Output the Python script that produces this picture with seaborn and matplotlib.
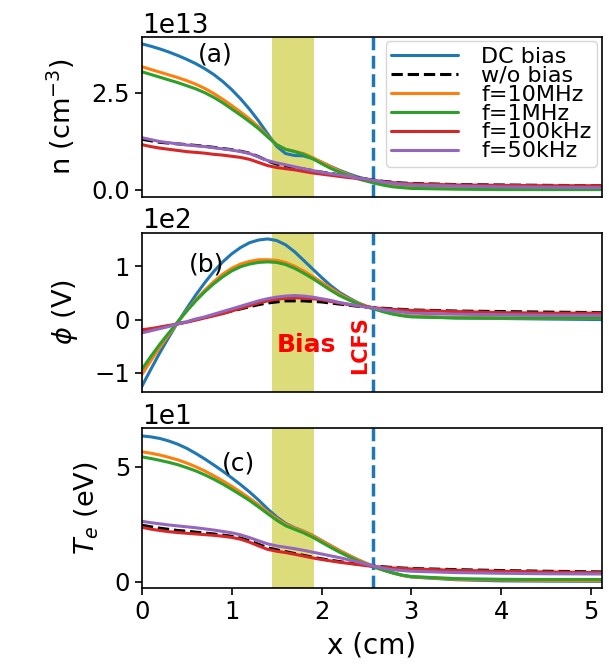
import pandas as pd
import matplotlib
matplotlib.use("Agg")
import matplotlib.pyplot as plt
import seaborn as sns

# x grid (cm), shared by all three panels
x_cm = [0.0, 0.1, 0.2, 0.3, 0.4, 0.5, 0.6, 0.7, 0.8, 0.9, 1.0, 1.1, 1.2, 1.3, 1.4,
        1.5, 1.6, 1.7, 1.8, 1.9, 2.0, 2.1, 2.2, 2.3, 2.4, 2.5, 2.6, 2.7, 2.8, 2.9,
        3.0, 3.5, 4.0, 4.5, 5.12]

labels = ["DC bias", "w/o bias", "f=10MHz", "f=1MHz", "f=100kHz", "f=50kHz"]
colors = ["tab:blue", "black", "tab:orange", "tab:green", "tab:red", "tab:purple"]

# density n (1e13 cm^-3)
n_dc = [3.76, 3.70, 3.63, 3.55, 3.46, 3.36, 3.25, 3.12, 2.97, 2.79, 2.58, 2.34, 2.07, 1.77, 1.44,
        1.12, 0.93, 0.88, 0.87, 0.80, 0.71, 0.60, 0.50, 0.41, 0.33, 0.27, 0.22, 0.17, 0.13, 0.10,
        0.08, 0.05, 0.04, 0.04, 0.04]
n_wo = [1.30, 1.26, 1.22, 1.20, 1.18, 1.16, 1.14, 1.12, 1.09, 1.06, 1.03, 0.99, 0.94, 0.85, 0.74,
        0.66, 0.61, 0.57, 0.53, 0.49, 0.45, 0.42, 0.38, 0.34, 0.31, 0.27, 0.24, 0.21, 0.19, 0.17,
        0.16, 0.13, 0.12, 0.11, 0.10]
n_10m = [3.17, 3.10, 3.03, 2.96, 2.89, 2.81, 2.72, 2.61, 2.48, 2.33, 2.17, 2.00, 1.82, 1.62, 1.38,
         1.16, 1.04, 0.99, 0.93, 0.83, 0.71, 0.59, 0.48, 0.38, 0.30, 0.24, 0.18, 0.13, 0.09, 0.07,
         0.05, 0.03, 0.02, 0.02, 0.02]
n_1m = [3.04, 2.97, 2.90, 2.83, 2.76, 2.68, 2.60, 2.50, 2.38, 2.24, 2.08, 1.92, 1.75, 1.57, 1.36,
        1.16, 1.04, 0.98, 0.91, 0.80, 0.67, 0.55, 0.45, 0.36, 0.28, 0.22, 0.16, 0.11, 0.07, 0.05,
        0.03, 0.01, 0.0, 0.0, 0.0]
n_100k = [1.16, 1.11, 1.07, 1.04, 1.01, 0.98, 0.96, 0.94, 0.91, 0.89, 0.86, 0.83, 0.78, 0.70, 0.62,
          0.57, 0.54, 0.51, 0.47, 0.43, 0.40, 0.37, 0.34, 0.31, 0.29, 0.26, 0.23, 0.20, 0.18, 0.16,
          0.15, 0.12, 0.11, 0.10, 0.10]
n_50k = [1.34, 1.29, 1.24, 1.21, 1.18, 1.15, 1.13, 1.11, 1.08, 1.05, 1.02, 0.98, 0.93, 0.84, 0.75,
         0.69, 0.64, 0.59, 0.54, 0.49, 0.45, 0.41, 0.38, 0.34, 0.30, 0.27, 0.23, 0.19, 0.16, 0.14,
         0.12, 0.09, 0.07, 0.06, 0.05]

# potential phi (1e2 V)
phi_dc = [-1.25, -0.93, -0.62, -0.33, -0.05, 0.21, 0.46, 0.69, 0.90, 1.08, 1.23, 1.35, 1.44, 1.49,
          1.51, 1.48, 1.40, 1.27, 1.11, 0.95, 0.79, 0.64, 0.51, 0.41, 0.32, 0.25, 0.20, 0.15, 0.11,
          0.08, 0.06, 0.03, 0.02, 0.01, 0.0]
phi_wo = [-0.21, -0.18, -0.15, -0.12, -0.08, -0.04, 0.0, 0.04, 0.08, 0.12, 0.16, 0.20, 0.24, 0.28,
          0.31, 0.33, 0.35, 0.35, 0.35, 0.34, 0.33, 0.31, 0.29, 0.27, 0.25, 0.23, 0.22, 0.21, 0.20,
          0.19, 0.18, 0.16, 0.15, 0.14, 0.13]
phi_10m = [-1.03, -0.77, -0.52, -0.28, -0.05, 0.17, 0.37, 0.55, 0.71, 0.85, 0.96, 1.04, 1.09, 1.12,
           1.12, 1.11, 1.07, 1.00, 0.91, 0.81, 0.70, 0.59, 0.48, 0.39, 0.31, 0.25, 0.20, 0.15, 0.11,
           0.08, 0.06, 0.04, 0.03, 0.03, 0.03]
phi_1m = [-0.93, -0.69, -0.46, -0.25, -0.04, 0.16, 0.35, 0.52, 0.67, 0.80, 0.91, 0.99, 1.04, 1.07,
          1.08, 1.07, 1.03, 0.96, 0.87, 0.77, 0.66, 0.55, 0.45, 0.37, 0.30, 0.24, 0.19, 0.14, 0.10,
          0.07, 0.05, 0.03, 0.03, 0.03, 0.03]
phi_100k = [-0.19, -0.17, -0.14, -0.11, -0.08, -0.05, -0.01, 0.03, 0.07, 0.11, 0.16, 0.21, 0.26, 0.31,
            0.35, 0.38, 0.40, 0.41, 0.40, 0.39, 0.37, 0.34, 0.31, 0.28, 0.26, 0.24, 0.22, 0.20, 0.19,
            0.18, 0.17, 0.15, 0.13, 0.12, 0.12]
phi_50k = [-0.25, -0.21, -0.17, -0.13, -0.08, -0.04, 0.01, 0.05, 0.10, 0.15, 0.20, 0.25, 0.30, 0.35,
           0.39, 0.42, 0.44, 0.45, 0.44, 0.42, 0.39, 0.36, 0.32, 0.29, 0.26, 0.23, 0.21, 0.18, 0.16,
           0.14, 0.12, 0.10, 0.09, 0.08, 0.08]

# electron temperature Te (eV)
te_dc = [63.4, 63.0, 62.3, 61.2, 59.8, 58.0, 55.8, 53.4, 50.8, 48.1, 45.2, 42.2, 39.0, 35.5, 31.7,
         28.2, 25.4, 23.5, 22.0, 20.2, 18.0, 15.8, 13.6, 11.6, 9.7, 8.0, 6.5, 5.1, 3.8, 2.8,
         2.1, 0.9, 0.4, 0.3, 0.2]
te_wo = [24.6, 23.9, 23.3, 22.8, 22.3, 22.0, 21.6, 21.2, 20.8, 20.3, 19.8, 19.0, 17.8, 16.3, 14.8,
         13.9, 13.1, 12.3, 11.5, 10.7, 10.0, 9.4, 8.8, 8.2, 7.7, 7.2, 6.8, 6.5, 6.2, 6.0,
         5.8, 5.3, 4.9, 4.6, 4.3]
te_10m = [56.5, 55.9, 55.1, 54.1, 53.0, 51.6, 50.0, 48.2, 46.1, 43.9, 41.5, 39.0, 36.3, 33.4, 30.3,
          27.5, 25.0, 23.3, 21.9, 20.1, 17.9, 15.7, 13.6, 11.6, 9.7, 8.0, 6.5, 5.0, 3.8, 2.8,
          2.2, 1.1, 0.8, 0.6, 0.5]
te_1m = [54.3, 53.6, 52.8, 51.9, 50.9, 49.6, 48.2, 46.5, 44.6, 42.5, 40.2, 37.8, 35.3, 32.5, 29.6,
         26.8, 24.4, 22.8, 21.3, 19.4, 17.2, 15.0, 12.9, 11.0, 9.2, 7.6, 6.2, 4.9, 3.8, 2.9,
         2.3, 1.4, 1.1, 1.0, 1.0]
te_100k = [23.7, 22.9, 22.3, 21.8, 21.4, 21.1, 20.8, 20.5, 20.2, 19.8, 19.3, 18.5, 17.2, 15.6, 14.1,
           13.3, 12.7, 12.0, 11.2, 10.4, 9.7, 9.1, 8.5, 8.0, 7.5, 7.0, 6.6, 6.3, 6.0, 5.8,
           5.6, 5.0, 4.6, 4.3, 4.0]
te_50k = [26.3, 25.7, 25.2, 24.7, 24.3, 23.9, 23.5, 23.0, 22.5, 21.9, 21.3, 20.4, 19.2, 17.8, 16.5,
          15.6, 15.0, 14.4, 13.7, 12.9, 12.1, 11.3, 10.5, 9.6, 8.7, 7.6, 6.6, 5.8, 5.2, 4.9,
          4.6, 4.0, 3.7, 3.5, 3.4]

bias_band = (1.45, 1.92)
x_lcfs = 2.57


def long_frame(series, scale):
    rows = []
    for lab, vals in zip(labels, series):
        for xi, v in zip(x_cm, vals):
            rows.append({"x": xi, "y": v * scale, "case": lab})
    return pd.DataFrame(rows)


panels = [
    (long_frame([n_dc, n_wo, n_10m, n_1m, n_100k, n_50k], 1e13),
     r"n (cm$^{-3}$)", "(a)", (0.16, 0.89), [0, 2.5e13], (-0.18e13, 3.94e13)),
    (long_frame([phi_dc, phi_wo, phi_10m, phi_1m, phi_100k, phi_50k], 1e2),
     r"$\phi$ (V)", "(b)", (0.14, 0.80), [-100, 0, 100], (-136, 163)),
    (long_frame([te_dc, te_wo, te_10m, te_1m, te_100k, te_50k], 1.0),
     r"$T_e$ (eV)", "(c)", (0.21, 0.78), [0, 50], (-2.6, 66.8)),
]

sns.set_style("ticks")
plt.rcParams["font.family"] = ["DejaVu Sans"]
plt.rcParams["mathtext.fontset"] = "dejavusans"
for key in ["text.color", "axes.labelcolor", "xtick.color", "ytick.color", "axes.edgecolor"]:
    plt.rcParams[key] = "black"

fig, axes = plt.subplots(3, 1, figsize=(6.09, 6.71), dpi=100, sharex=True)
fig.subplots_adjust(left=0.233, right=0.988, top=0.945, bottom=0.124, hspace=0.225)

palette = dict(zip(labels, colors))
dashes = {lab: (3.7, 1.6) if lab == "w/o bias" else "" for lab in labels}

for i, (ax, (df, ylab, tag, tagpos, yt, ylim)) in enumerate(zip(axes, panels)):
    ax.axvspan(*bias_band, color="#dcdc7b", lw=0, zorder=0)
    sns.lineplot(data=df, x="x", y="y", hue="case", style="case", palette=palette,
                 dashes=dashes, hue_order=labels, style_order=labels,
                 linewidth=2.2, ax=ax, legend=(i == 0), zorder=2)
    ax.axvline(x_lcfs, color="tab:blue", ls="--", lw=2.5, zorder=1)
    ax.set_ylabel(ylab, fontsize=19.5, labelpad=10)
    ax.set_xlabel("")
    ax.set_yticks(yt)
    ax.set_ylim(*ylim)
    ax.set_xlim(0, 5.12)
    ax.ticklabel_format(axis="y", style="sci", scilimits=(0, 0))
    ax.tick_params(labelsize=17.5, width=1.2, length=5)
    ax.yaxis.get_offset_text().set_fontsize(19)
    ax.text(*tagpos, tag, transform=ax.transAxes, fontsize=18, ha="center", va="center")
    for sp in ax.spines.values():
        sp.set_linewidth(1.2)
    if i < 2:
        ax.tick_params(axis="x", bottom=False, labelbottom=False)

leg = axes[0].legend(loc="upper right", fontsize=16, labelspacing=-0.05, borderpad=0.25,
                     handlelength=3.0, handletextpad=1.05, borderaxespad=0.2, framealpha=0.8)
leg.get_frame().set_linewidth(1.0)
leg.set_zorder(5)

axes[1].text(1.83, -47, "Bias", color="red", fontsize=18, fontweight="bold",
             ha="center", va="center")
axes[1].text(2.43, -48, "LCFS", color="red", fontsize=15, fontweight="bold",
             ha="center", va="center", rotation=90)

axes[2].set_xticks([0, 1, 2, 3, 4, 5])
axes[2].set_xlabel("x (cm)", fontsize=20, labelpad=6)

fig.savefig("out.png", dpi=100)
